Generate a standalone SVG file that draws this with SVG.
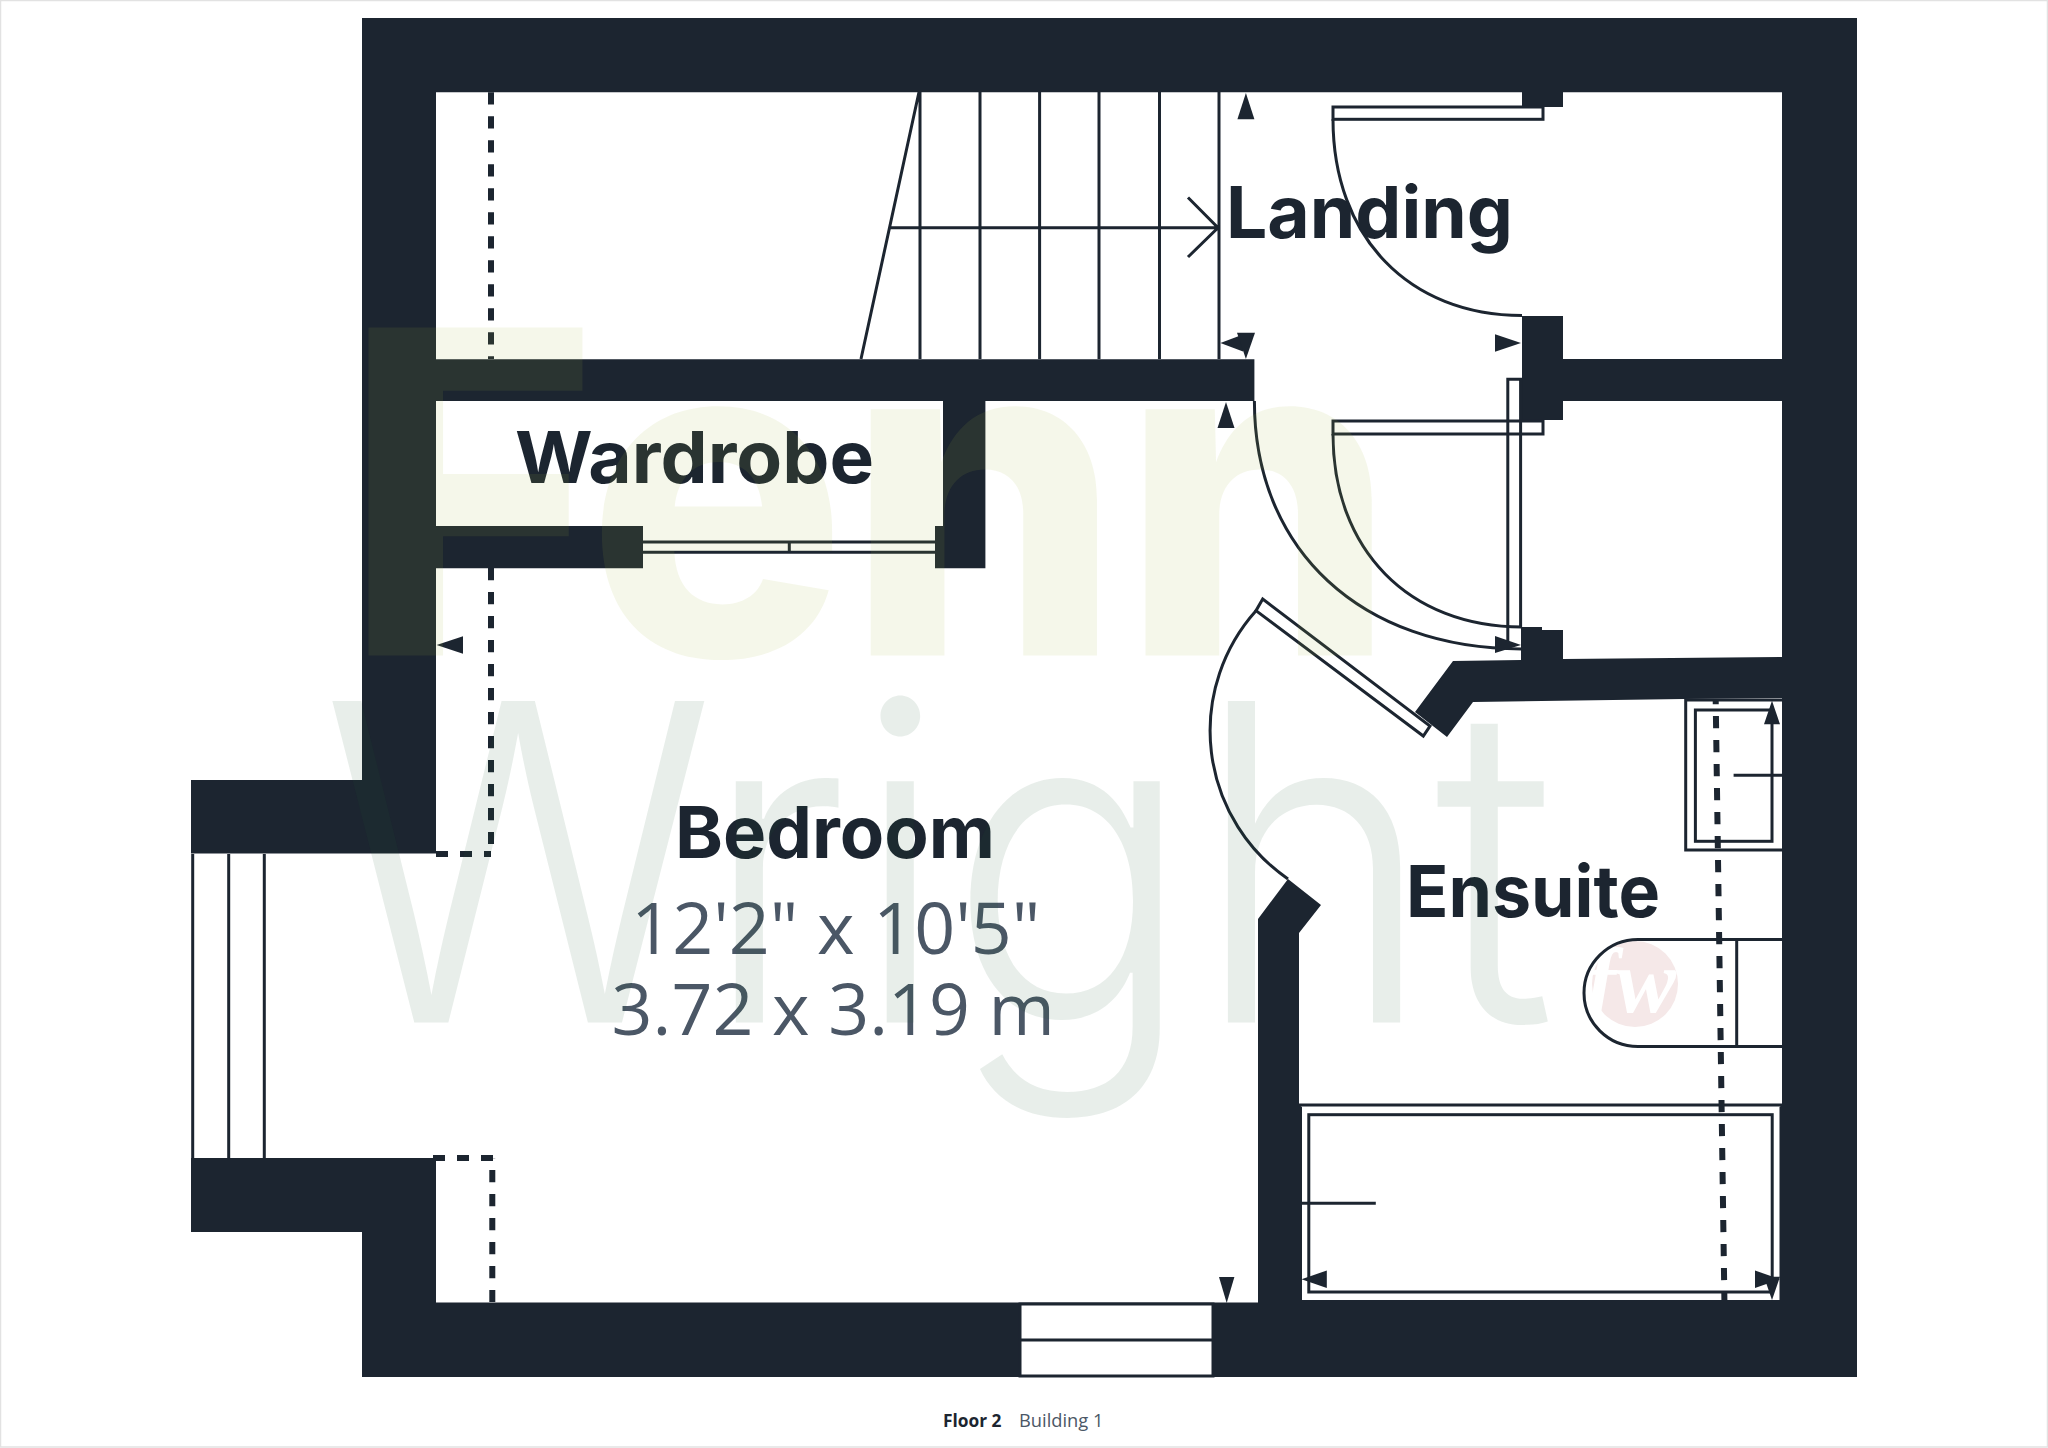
<svg xmlns="http://www.w3.org/2000/svg" width="2048" height="1448" viewBox="0 0 2048 1448">
<style>
.wall{fill:#1c2530}
.ln{fill:none;stroke:#1c2530;stroke-width:3}
.box{fill:#fff;stroke:#1c2530;stroke-width:3}
.dash{fill:none;stroke:#1c2530;stroke-width:6;stroke-dasharray:12.2 11.8}
.dashh{fill:none;stroke:#1c2530;stroke-width:6;stroke-dasharray:12 12}
.ar{fill:#1c2530}
.room{font-family:Inter,"Liberation Sans",sans-serif;font-weight:700;font-size:72px;fill:#1c2530}
.dim{font-family:"Open Sans","Liberation Sans",sans-serif;font-size:71.7px;fill:#4b5766;text-anchor:middle}
.foot{font-family:"Open Sans","Liberation Sans",sans-serif;font-size:18px}
</style>
<rect width="2048" height="1448" fill="#fff"/>
<rect x="0.5" y="0.5" width="2047" height="1446.5" fill="none" stroke="#e2e2e2" stroke-width="1.5"/>

<g id="logo">
<circle cx="1635" cy="984" r="43" fill="#f5e8e8"/>
<text x="1631" y="1012" font-family="'Liberation Serif',serif" font-style="italic" font-weight="700" font-size="90" fill="#fff" text-anchor="middle">fw</text>
</g>

<g id="walls">
<path class="wall" fill-rule="evenodd" d="M362 18H1857V1377H362V1232H191V780H362Z
M436 92.3H1522V107H1563V92.3H1782V359H1563V316H1522V420H1563V401H1782V657L1563 659V630H1542V627H1521V660L1453 661L1415 712L1447 737L1473 702L1684 699L1782 698V1105L1779.5 1107V1300H1302V1107L1299 1105V933L1321 905L1288 879L1258 919V1302.5H436V1158H191V853.6H436V568.3H643V526H436V401H943V526H935V568.3H985.4V401H1254.4V359.3H436Z"/>
<rect class="box" x="1020" y="1304" width="193" height="72"/>
<path class="ln" d="M1020 1340H1213"/>
</g>

<g id="window-left"><path class="ln" d="M192.7 854V1158M228.7 854V1158M264.3 854V1158"/></g>

<g id="stairs">
<path class="ln" d="M920 92V359M980 92V359M1039.6 92V359M1099 92V359M1159.5 92V359M1219 92V359M919 92L861 359M890.5 227.7H1217M1188 197.5L1218 227.7L1188 257"/>
</g>

<g id="wardrobe-door">
<path class="ln" d="M643 542H935M643 552.3H935M789.3 542V552.3"/>
</g>

<g id="doors">
<rect class="box" x="1333" y="107" width="210" height="12.3"/>
<path class="ln" d="M1333 119.3C1333 237 1409 315.5 1522 315.5"/>
<path class="ln" d="M1507.8 650V379.3H1520.6V627"/>
<rect class="ln" x="1333" y="421" width="210" height="13"/>
<path class="ln" d="M1333 434C1333 550 1409 627 1522 627"/>
<path class="ln" d="M1254.4 401C1254.4 550 1361 649 1522 649"/>
<polygon class="box" points="1262.7,599 1256,610.7 1423.3,736 1430,726"/>
<path class="ln" d="M1256 610.7A180 180 0 0 0 1288 879"/>
</g>

<g id="bath">
<path class="ln" d="M1299 1105H1782"/>
<rect class="ln" x="1308.8" y="1114.7" width="463.4" height="177.3"/>
<path class="ln" d="M1302 1203.3H1375.8"/>
</g>

<g id="shower">
<path class="ln" d="M1782 700H1685.7V850H1782"/>
<rect class="ln" x="1695.4" y="710" width="76.6" height="131.3"/>
<path class="ln" d="M1733.6 775.3H1782"/>
</g>

<g id="basin">
<path class="ln" d="M1782 939.5H1638A54 53.5 0 0 0 1638 1046.5H1782M1736.7 939.5V1046.5"/>
</g>

<g id="dashed">
<path class="dash" d="M491 92.3V359"/>
<path class="dash" d="M491 568V844"/>
<path class="dashh" d="M436 854H491"/>
<path class="dashh" d="M433 1158H495"/>
<path class="dash" d="M492.3 1158V1302" stroke-dashoffset="-12"/>
<path class="dash" d="M1715.7 700L1724.4 1300" stroke-dashoffset="8"/>
</g>

<g id="arrows">
<polygon class="ar" points="1245.9,93 1237.4,119.3 1254.4,119.3"/>
<polygon class="ar" points="1220.4,343 1243,334.5 1243,351.5"/>
<polygon class="ar" points="1245.9,359 1237,332.7 1255,332.7"/>
<polygon class="ar" points="1521,343 1495,334.3 1495,351.7"/>
<polygon class="ar" points="1226,402 1217.5,428 1234.5,428"/>
<polygon class="ar" points="1521,645 1495,636 1495,653"/>
<polygon class="ar" points="436.6,645 463,636.3 463,653.7"/>
<polygon class="ar" points="1226.7,1303 1219,1277 1234.4,1277"/>
<polygon class="ar" points="1301.5,1279.3 1326.8,1270.5 1326.8,1288"/>
<polygon class="ar" points="1780,1279.3 1755,1270.5 1755,1288"/>
<polygon class="ar" points="1772,1300 1764,1276.7 1780,1276.7"/>
<polygon class="ar" points="1772,700.7 1764,724.3 1780,724.3"/>
</g>

<g id="labels">
<text class="room" x="1226" y="238.3" textLength="287" lengthAdjust="spacingAndGlyphs">Landing</text>
<text class="room" x="515" y="482.7" textLength="359" lengthAdjust="spacingAndGlyphs">Wardrobe</text>
<text class="room" x="675" y="857.7" textLength="320" lengthAdjust="spacingAndGlyphs">Bedroom</text>
<text class="room" x="1406" y="917.3" textLength="254" lengthAdjust="spacingAndGlyphs">Ensuite</text>
<text class="dim" x="835.8" y="954">12'2" x 10'5"</text>
<text class="dim" x="833.3" y="1035">3.72 x 3.19 m</text>
<text class="foot" x="943" y="1426.5" font-weight="700" fill="#1c2530" textLength="58.5" lengthAdjust="spacingAndGlyphs">Floor 2</text>
<text class="foot" x="1019" y="1426.5" fill="#4b5766" textLength="84.5" lengthAdjust="spacingAndGlyphs">Building 1</text>
</g>

<g id="watermark">
<text x="344" y="655.5" font-family="Inter,'Liberation Sans',sans-serif" font-weight="800" font-size="451" fill="#a4b640" fill-opacity="0.11" textLength="1052" lengthAdjust="spacingAndGlyphs">Fenn</text>
<text x="321" y="1022.5" font-family="Inter,'Liberation Sans',sans-serif" font-weight="300" font-size="442" fill="#19552d" fill-opacity="0.1" textLength="1235" lengthAdjust="spacingAndGlyphs">Wright</text>
</g>
</svg>
